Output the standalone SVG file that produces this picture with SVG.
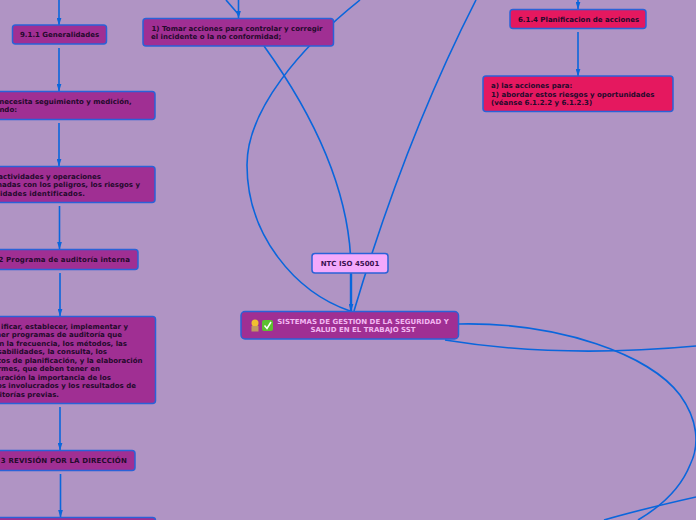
<svg xmlns="http://www.w3.org/2000/svg" width="696" height="520" viewBox="0 0 696 520">
<style>
.n{fill:#a02f93;stroke:#2a62d8;stroke-width:1.5}
.r{fill:#e5185f;stroke:#2a62d8;stroke-width:1.5}
.t{font-family:"DejaVu Sans",sans-serif;font-weight:700;font-size:7px;fill:#240a2c}
.e{text-anchor:end}
.w{letter-spacing:.13px}
.c{fill:none;stroke:#0a66dc;stroke-width:1.6}
</style>
<defs><marker id="h" markerWidth="8" markerHeight="5" refX="7.500" refY="2.500" orient="auto" markerUnits="userSpaceOnUse"><path d="M0,0L8,2.500L0,5Z" fill="#0a66dc"/></marker></defs>
<rect width="696" height="520" fill="#b094c4"/>
<g id="connectors">
<path class="c" marker-end="url(#h)" d="M59,0V25"/>
<path class="c" marker-end="url(#h)" d="M59,48V91"/>
<path class="c" marker-end="url(#h)" d="M59,123V166"/>
<path class="c" marker-end="url(#h)" d="M59.500,206V249"/>
<path class="c" marker-end="url(#h)" d="M60,273V316"/>
<path class="c" marker-end="url(#h)" d="M60,407V450"/>
<path class="c" marker-end="url(#h)" d="M60.500,474V517"/>
<path class="c" marker-end="url(#h)" d="M238.500,0V18"/>
<path class="c" d="M226,0L239,15"/>
<path class="c" marker-end="url(#h)" d="M578,0V9"/>
<path class="c" marker-end="url(#h)" d="M578,32V76"/>
<path class="c" style="stroke-width:2.400" marker-end="url(#h)" d="M351,274V311"/>
<path class="c" d="M264,46C310,110 352,190 351,274"/>
<path class="c" d="M360,0C300,48 247,110 247,165C247,235 295,292 350,311"/>
<path class="c" d="M476,0C430,90 390,190 354,311"/>
<path class="c" d="M459,324C560,322 650,355 680,395C698,420 700,445 690,465C680,490 660,507 638,520"/>
<path class="c" d="M445,340C530,354 620,353 696,346"/>
<path class="c" d="M604,520C635,511 665,504 696,497"/>
</g>
<g id="n911"><rect class="n" x="12.500" y="25" width="94" height="19" rx="3"/><text class="t" x="20" y="37">9.1.1 Generalidades</text></g>
<g id="n1"><rect class="n" x="-10" y="91.500" width="165" height="28" rx="3"/><text class="t e"><tspan x="131.700" y="104">necesita seguimiento y medición,</tspan><tspan x="17" y="112">ndo:</tspan></text></g>
<g id="n2"><rect class="n" x="-10" y="166.500" width="165" height="36" rx="3"/><text class="t e"><tspan x="101" y="179">actividades y operaciones</tspan><tspan x="140" y="187">nadas con los peligros, los riesgos y</tspan></text><text class="t e w" x="85" y="196">nidades identificados.</text></g>
<g id="n922"><rect class="n" x="-10" y="249.500" width="148" height="20" rx="3"/><text class="t e w" x="130" y="262">2.2 Programa de auditoría interna</text></g>
<g id="n3"><rect class="n" x="-10" y="316.500" width="165.500" height="87" rx="3"/><text class="t e"><tspan x="128" y="329">ificar, establecer, implementar y</tspan><tspan x="122" y="337">ner programas de auditoría que</tspan><tspan x="127" y="346">n la frecuencia, los métodos, las</tspan><tspan x="107" y="354">sabilidades, la consulta, los</tspan><tspan x="142.500" y="363">tos de planificación, y la elaboración</tspan><tspan x="100" y="371">rmes, que deben tener en</tspan><tspan x="111" y="380">eración la importancia de los</tspan><tspan x="136" y="388">os involucrados y los resultados de</tspan><tspan x="59" y="397">itorías previas.</tspan></text></g>
<g id="n93"><rect class="n" x="-10" y="450.500" width="145" height="20" rx="3"/><text class="t e w" style="letter-spacing:.16px" x="127" y="463">3 REVISIÓN POR LA DIRECCIÓN</text></g>
<g id="n4"><rect class="n" x="-10" y="517.500" width="165.500" height="20" rx="3"/></g>
<g id="n5"><rect class="n" x="143" y="18.500" width="190.500" height="27.500" rx="3"/><text class="t"><tspan x="151.500" y="31">1) Tomar acciones para controlar y corregir</tspan><tspan x="151" y="39">el incidente o la no conformidad;</tspan></text></g>
<g id="n614"><rect class="r" x="510" y="9.500" width="136" height="19" rx="3"/><text class="t" x="518" y="22">6.1.4 Planificacion de acciones</text></g>
<g id="n6"><rect class="r" x="483" y="76" width="190" height="35.500" rx="3"/><text class="t"><tspan x="491" y="88">a) las acciones para:</tspan><tspan x="491" y="97">1) abordar estos riesgos y oportunidades</tspan><tspan x="491" y="105">(véanse 6.1.2.2 y 6.1.2.3)</tspan></text></g>
<g id="iso"><rect x="312" y="253.500" width="76" height="19.500" rx="3" fill="#f4a9fb" stroke="#2a62d8" stroke-width="1.500"/><text class="t" x="350" y="266" text-anchor="middle" style="fill:#3a1050">NTC ISO 45001</text></g>
<g id="root"><rect class="n" x="241" y="311.500" width="217.500" height="27.500" rx="4"/>
<circle cx="255" cy="323" r="3.500" fill="#f0c030"/><rect x="251.500" y="326" width="7" height="5.500" fill="#c09a60"/>
<rect x="262" y="320" width="11" height="11" rx="2" fill="#5cc030"/><path d="M264.500,325.500L267,328.500L271,322" fill="none" stroke="#fff" stroke-width="1.500"/>
<text class="t" style="fill:#f2b8f2" text-anchor="middle"><tspan x="363" y="324">SISTEMAS DE GESTION DE LA SEGURIDAD Y</tspan><tspan x="363" y="332">SALUD EN EL TRABAJO SST</tspan></text></g>
</svg>
